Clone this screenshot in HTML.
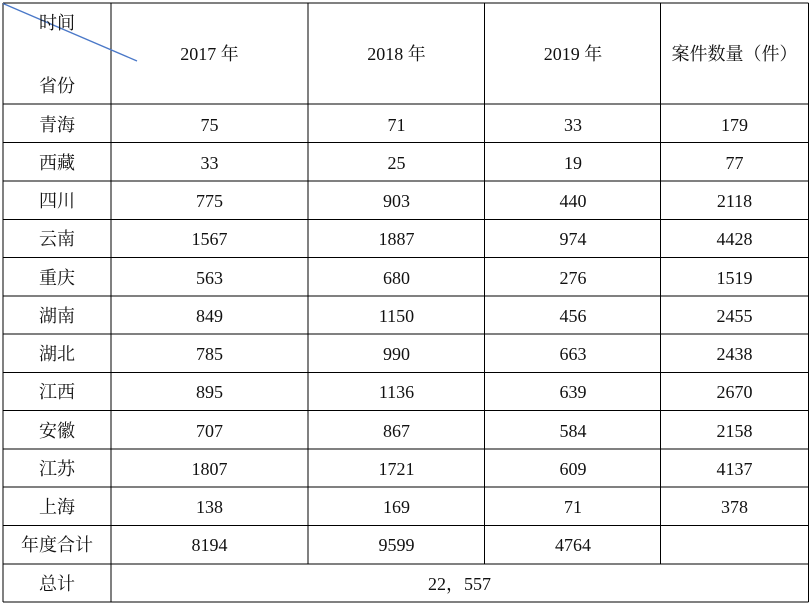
<!DOCTYPE html>
<html><head><meta charset="utf-8">
<style>
html,body{margin:0;padding:0;background:#fff;}
#w{position:relative;width:812px;height:605px;overflow:hidden;background:#fff;}
.t{position:absolute;height:20px;line-height:20px;text-align:center;font-size:18px;color:#111;white-space:nowrap;
font-family:"Liberation Serif","Noto Serif CJK SC",serif;margin-top:1px;}
svg{position:absolute;left:0;top:0;}
</style></head><body>
<div id="w">
<svg width="812" height="605" viewBox="0 0 812 605">
<g stroke="#000" stroke-width="1.3" shape-rendering="crispEdges">
<line x1="3" y1="3" x2="808.5" y2="3"/>
<line x1="3" y1="104" x2="808.5" y2="104"/>
<line x1="3" y1="142.5" x2="808.5" y2="142.5"/>
<line x1="3" y1="181" x2="808.5" y2="181"/>
<line x1="3" y1="219.5" x2="808.5" y2="219.5"/>
<line x1="3" y1="257.5" x2="808.5" y2="257.5"/>
<line x1="3" y1="296" x2="808.5" y2="296"/>
<line x1="3" y1="334" x2="808.5" y2="334"/>
<line x1="3" y1="372.5" x2="808.5" y2="372.5"/>
<line x1="3" y1="410.5" x2="808.5" y2="410.5"/>
<line x1="3" y1="449" x2="808.5" y2="449"/>
<line x1="3" y1="487" x2="808.5" y2="487"/>
<line x1="3" y1="525.5" x2="808.5" y2="525.5"/>
<line x1="3" y1="564" x2="808.5" y2="564"/>
<line x1="3" y1="602" x2="808.5" y2="602"/>
<line x1="3" y1="3" x2="3" y2="602"/>
<line x1="111" y1="3" x2="111" y2="602"/>
<line x1="308" y1="3" x2="308" y2="564"/>
<line x1="484.5" y1="3" x2="484.5" y2="564"/>
<line x1="660.5" y1="3" x2="660.5" y2="564"/>
<line x1="808.5" y1="3" x2="808.5" y2="602"/>
</g>
<line x1="3" y1="3.5" x2="137" y2="61" stroke="#4a78c8" stroke-width="1.3"/>
</svg>

<!-- header -->
<div class="t" style="left:20px;top:12px;width:74px;">时间</div>
<div class="t" style="left:20px;top:75px;width:74px;">省份</div>
<div class="t" style="left:111px;top:43px;width:197px;">2017 年</div>
<div class="t" style="left:308px;top:43px;width:177px;">2018 年</div>
<div class="t" style="left:485px;top:43px;width:176px;">2019 年</div>
<div class="t" style="left:661px;top:43px;width:147px;">案件数量（件）</div>

<!-- rows -->
<div class="t" style="left:3px;top:114px;width:108px;">青海</div>
<div class="t" style="left:111px;top:114px;width:197px;">75</div>
<div class="t" style="left:308px;top:114px;width:177px;">71</div>
<div class="t" style="left:485px;top:114px;width:176px;">33</div>
<div class="t" style="left:661px;top:114px;width:147px;">179</div>

<div class="t" style="left:3px;top:152px;width:108px;">西藏</div>
<div class="t" style="left:111px;top:152px;width:197px;">33</div>
<div class="t" style="left:308px;top:152px;width:177px;">25</div>
<div class="t" style="left:485px;top:152px;width:176px;">19</div>
<div class="t" style="left:661px;top:152px;width:147px;">77</div>

<div class="t" style="left:3px;top:190px;width:108px;">四川</div>
<div class="t" style="left:111px;top:190px;width:197px;">775</div>
<div class="t" style="left:308px;top:190px;width:177px;">903</div>
<div class="t" style="left:485px;top:190px;width:176px;">440</div>
<div class="t" style="left:661px;top:190px;width:147px;">2118</div>

<div class="t" style="left:3px;top:228px;width:108px;">云南</div>
<div class="t" style="left:111px;top:228px;width:197px;">1567</div>
<div class="t" style="left:308px;top:228px;width:177px;">1887</div>
<div class="t" style="left:485px;top:228px;width:176px;">974</div>
<div class="t" style="left:661px;top:228px;width:147px;">4428</div>

<div class="t" style="left:3px;top:267px;width:108px;">重庆</div>
<div class="t" style="left:111px;top:267px;width:197px;">563</div>
<div class="t" style="left:308px;top:267px;width:177px;">680</div>
<div class="t" style="left:485px;top:267px;width:176px;">276</div>
<div class="t" style="left:661px;top:267px;width:147px;">1519</div>

<div class="t" style="left:3px;top:305px;width:108px;">湖南</div>
<div class="t" style="left:111px;top:305px;width:197px;">849</div>
<div class="t" style="left:308px;top:305px;width:177px;">1150</div>
<div class="t" style="left:485px;top:305px;width:176px;">456</div>
<div class="t" style="left:661px;top:305px;width:147px;">2455</div>

<div class="t" style="left:3px;top:343px;width:108px;">湖北</div>
<div class="t" style="left:111px;top:343px;width:197px;">785</div>
<div class="t" style="left:308px;top:343px;width:177px;">990</div>
<div class="t" style="left:485px;top:343px;width:176px;">663</div>
<div class="t" style="left:661px;top:343px;width:147px;">2438</div>

<div class="t" style="left:3px;top:381px;width:108px;">江西</div>
<div class="t" style="left:111px;top:381px;width:197px;">895</div>
<div class="t" style="left:308px;top:381px;width:177px;">1136</div>
<div class="t" style="left:485px;top:381px;width:176px;">639</div>
<div class="t" style="left:661px;top:381px;width:147px;">2670</div>

<div class="t" style="left:3px;top:420px;width:108px;">安徽</div>
<div class="t" style="left:111px;top:420px;width:197px;">707</div>
<div class="t" style="left:308px;top:420px;width:177px;">867</div>
<div class="t" style="left:485px;top:420px;width:176px;">584</div>
<div class="t" style="left:661px;top:420px;width:147px;">2158</div>

<div class="t" style="left:3px;top:458px;width:108px;">江苏</div>
<div class="t" style="left:111px;top:458px;width:197px;">1807</div>
<div class="t" style="left:308px;top:458px;width:177px;">1721</div>
<div class="t" style="left:485px;top:458px;width:176px;">609</div>
<div class="t" style="left:661px;top:458px;width:147px;">4137</div>

<div class="t" style="left:3px;top:496px;width:108px;">上海</div>
<div class="t" style="left:111px;top:496px;width:197px;">138</div>
<div class="t" style="left:308px;top:496px;width:177px;">169</div>
<div class="t" style="left:485px;top:496px;width:176px;">71</div>
<div class="t" style="left:661px;top:496px;width:147px;">378</div>

<div class="t" style="left:3px;top:534px;width:108px;">年度合计</div>
<div class="t" style="left:111px;top:534px;width:197px;">8194</div>
<div class="t" style="left:308px;top:534px;width:177px;">9599</div>
<div class="t" style="left:485px;top:534px;width:176px;">4764</div>

<div class="t" style="left:3px;top:573px;width:108px;">总计</div>
<div class="t" style="left:111px;top:573px;width:697px;">22，557</div>
</div>
</body></html>
